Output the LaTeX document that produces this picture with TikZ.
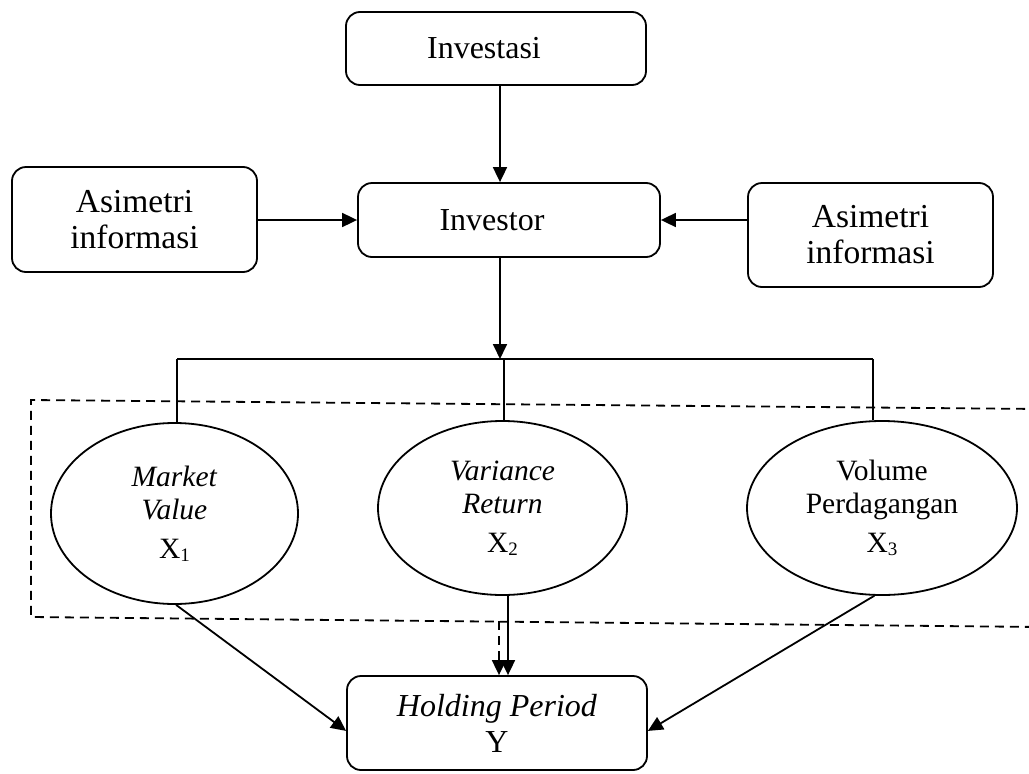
\documentclass[tikz,border=0pt]{standalone}
\usepackage{fontspec}
\setmainfont{Liberation Serif}
\usetikzlibrary{arrows.meta,shapes.geometric}
\newcommand{\subnum}[1]{{\fontsize{19}{19}\selectfont\raisebox{-3pt}{#1}}}
\begin{document}
\begin{tikzpicture}[x=1pt,y=-1pt,
  every node/.style={line width=1.8pt},
  box/.style={draw,rounded corners=14pt,align=center,font=\fontsize{32}{36}\selectfont},
  abox/.style={box,font=\fontsize{33.5}{36}\selectfont},
  oval/.style={draw,ellipse,inner sep=0pt,align=center,font=\fontsize{29.5}{33}\selectfont},
  arr/.style={line width=1.8pt,-{Triangle[length=15pt,width=14pt]}},
  conn/.style={line width=1.8pt},
  dbox/.style={line width=1.8pt,dash pattern=on 9pt off 6pt}]
\useasboundingbox (0,0) rectangle (1029,774);
% boxes
\node[box,minimum width=300pt,minimum height=73pt] (inv) at (496,48.5) {\hspace*{-24pt}Investasi};
\node[box,minimum width=302pt,minimum height=74pt] (ivr) at (509,220) {\hspace*{-34pt}Investor};
\node[abox,minimum width=245pt,minimum height=105pt] (asl) at (134.5,219.5) {Asimetri\\informasi};
\node[abox,minimum width=245pt,minimum height=104pt] (asr) at (870.5,235) {Asimetri\\informasi};
\node[box,minimum width=300pt,minimum height=94pt] (hp) at (497,723) {\textit{Holding Period}\\Y};
% ellipses
\node[oval,minimum width=247pt,minimum height=181pt] (mv) at (174.5,513.5) {\textit{Market}\\\textit{Value}\\[6pt]X\subnum{1}};
\node[oval,minimum width=249pt,minimum height=174pt] (vr) at (502.5,508) {\textit{Variance}\\\textit{Return}\\[6pt]X\subnum{2}};
\node[oval,minimum width=270pt,minimum height=174pt] (vp) at (882,508) {Volume\\Perdagangan\\[6pt]X\subnum{3}};
% helper coordinates
\coordinate (cx) at (500,0);
\coordinate (ay) at (0,220);
\coordinate (bus) at (500,359);
\coordinate (bl) at (177,359);
\coordinate (bm) at (504,359);
\coordinate (br) at (873,359);
\coordinate (vx) at (508,0);
\coordinate (dx) at (499,621);
% dashed frame
\draw[dbox] (1040,409) -- (31,400) -- (31,617) -- (1040,627);
% connectors
\draw[arr] (inv.south -| cx) -- (ivr.north -| cx);
\draw[arr] (asl.east |- ay) -- (ivr.west |- ay);
\draw[arr] (asr.west |- ay) -- (ivr.east |- ay);
\draw[arr] (ivr.south -| cx) -- (bus);
\draw[conn] (bl) -- (br);
\draw[conn] (bl) -- (mv.north -| bl);
\draw[conn] (bm) -- (vr.north -| bm);
\draw[conn] (br) -- (vp.north -| br);
\draw[arr] (mv.-89) -- (hp.183);
\draw[arr] (vp.-95) -- (hp.-3);
\draw[arr] (vr.south -| vx) -- (hp.north -| vx);
\draw[arr,dbox] (dx) -- (hp.north -| dx);
\end{tikzpicture}
\end{document}
